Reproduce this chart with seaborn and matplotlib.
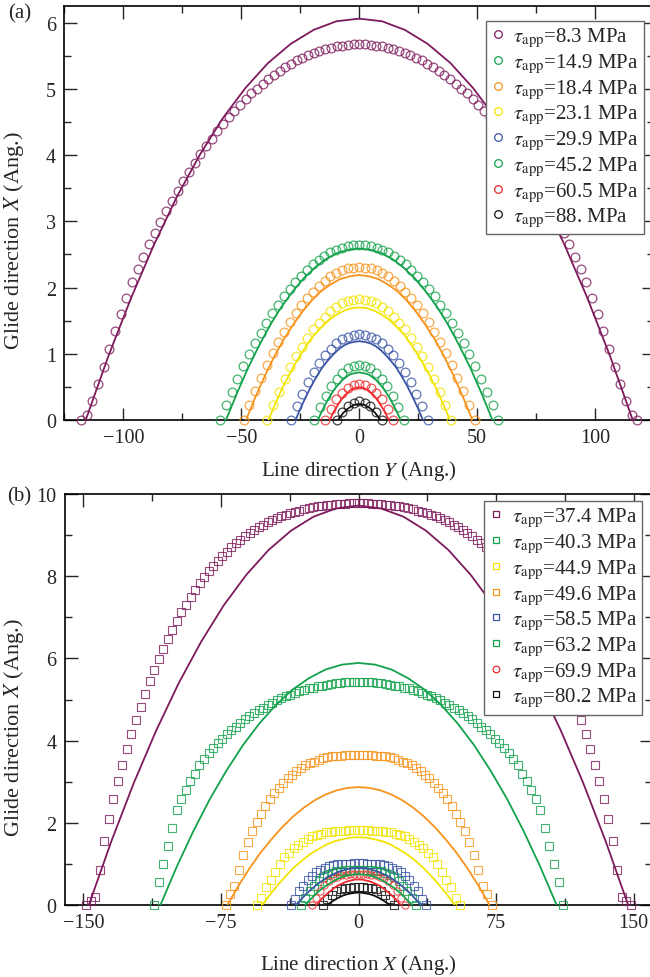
import numpy as np
import matplotlib
matplotlib.use("Agg")
import matplotlib.pyplot as plt
from matplotlib.lines import Line2D
from matplotlib.ticker import MultipleLocator
import seaborn as sns

sns.set_style("ticks")
plt.rcParams["font.family"] = ["Liberation Serif", "DejaVu Serif"]
plt.rcParams["mathtext.fontset"] = "stix"

# ---------------- panel (a) data ----------------
top_stress = ["8.3", "14.9", "18.4", "23.1", "29.9", "45.2", "60.5", "88."]
top_colors = ["#7d1a5c", "#13a24b", "#f7941d", "#f2e400", "#3a55a5", "#13a24b", "#ee2a2e", "#111111"]
top_mk_halfwidth = [118, 59, 49, 39, 29, 19, 14.5, 9.5]
top_ln_halfwidth = [116, 56.5, 48, 38.5, 27, 17.5, 12.5, 9]

top_pts_83 = [0.00, 0.07, 0.28, 0.54, 0.80, 1.07, 1.35, 1.60, 1.84, 2.08, 2.28, 2.46, 2.65, 2.82, 2.99, 3.15,
              3.31, 3.46, 3.61, 3.74, 3.88, 4.01, 4.13, 4.25, 4.36, 4.47, 4.57, 4.66, 4.76, 4.84, 4.93, 5.00,
              5.08, 5.15, 5.21, 5.27, 5.33, 5.38, 5.43, 5.47, 5.51, 5.54, 5.57, 5.60, 5.62, 5.64, 5.65, 5.66,
              5.67, 5.67, 5.67, 5.66, 5.65, 5.64, 5.62, 5.60, 5.57, 5.54, 5.51, 5.47, 5.43, 5.38, 5.33, 5.27,
              5.21, 5.15, 5.08, 5.00, 4.93, 4.84, 4.76, 4.66, 4.57, 4.47, 4.36, 4.25, 4.13, 4.01, 3.88, 3.74,
              3.61, 3.46, 3.31, 3.15, 2.99, 2.82, 2.65, 2.46, 2.28, 2.08, 1.84, 1.60, 1.35, 1.07, 0.80, 0.54,
              0.28, 0.07, 0.00]
top_pts_149 = [0.00, 0.22, 0.42, 0.62, 0.81, 0.99, 1.16, 1.32, 1.47, 1.61, 1.74, 1.87, 1.98, 2.09, 2.18, 2.27,
               2.35, 2.42, 2.48, 2.53, 2.57, 2.60, 2.62, 2.64, 2.64, 2.64, 2.62, 2.60, 2.57, 2.53, 2.48, 2.42,
               2.35, 2.27, 2.18, 2.09, 1.98, 1.87, 1.74, 1.61, 1.47, 1.32, 1.16, 0.99, 0.81, 0.62, 0.42, 0.22, 0.00]
top_pts_184 = [0.00, 0.23, 0.44, 0.64, 0.83, 1.01, 1.18, 1.33, 1.48, 1.61, 1.73, 1.84, 1.94, 2.03, 2.10, 2.17,
               2.22, 2.26, 2.29, 2.30, 2.31, 2.30, 2.29, 2.26, 2.22, 2.17, 2.10, 2.03, 1.94, 1.84, 1.73, 1.61,
               1.48, 1.33, 1.18, 1.01, 0.83, 0.64, 0.44, 0.23, 0.00]
top_pts_231 = [0.00, 0.22, 0.43, 0.62, 0.80, 0.96, 1.11, 1.24, 1.37, 1.47, 1.56, 1.64, 1.71, 1.76, 1.79, 1.81,
               1.82, 1.81, 1.79, 1.76, 1.71, 1.64, 1.56, 1.47, 1.37, 1.24, 1.11, 0.96, 0.80, 0.62, 0.43, 0.22, 0.00]
top_pts_299 = [0.00, 0.21, 0.40, 0.57, 0.72, 0.86, 0.98, 1.07, 1.16, 1.22, 1.26, 1.29, 1.30, 1.29, 1.26, 1.22,
               1.16, 1.07, 0.98, 0.86, 0.72, 0.57, 0.40, 0.21, 0.00]
top_pts_452 = [0.00, 0.19, 0.36, 0.51, 0.62, 0.71, 0.78, 0.82, 0.83, 0.82, 0.78, 0.71, 0.62, 0.51, 0.36, 0.19, 0.00]
top_pts_605 = [0.00, 0.17, 0.31, 0.41, 0.49, 0.53, 0.55, 0.53, 0.49, 0.41, 0.31, 0.17, 0.00]
top_pts_880 = [0.00, 0.12, 0.21, 0.26, 0.28, 0.26, 0.21, 0.12, 0.00]

top_fit_83 = [0.00, 0.97, 1.85, 2.65, 3.37, 4.00, 4.55, 5.01, 5.39, 5.68, 5.89, 6.02, 6.06, 6.02, 5.89, 5.68,
              5.39, 5.01, 4.55, 4.00, 3.37, 2.65, 1.85, 0.97, 0.00]
top_fit_149 = [0.00, 0.41, 0.79, 1.13, 1.44, 1.71, 1.94, 2.14, 2.30, 2.43, 2.52, 2.57, 2.59, 2.57, 2.52, 2.43,
               2.30, 2.14, 1.94, 1.71, 1.44, 1.13, 0.79, 0.41, 0.00]
top_fit_184 = [0.00, 0.35, 0.67, 0.96, 1.22, 1.44, 1.64, 1.81, 1.95, 2.05, 2.13, 2.17, 2.19, 2.17, 2.13, 2.05,
               1.95, 1.81, 1.64, 1.44, 1.22, 0.96, 0.67, 0.35, 0.00]
top_fit_231 = [0.00, 0.27, 0.52, 0.74, 0.94, 1.12, 1.28, 1.40, 1.51, 1.59, 1.65, 1.69, 1.70, 1.69, 1.65, 1.59,
               1.51, 1.40, 1.28, 1.12, 0.94, 0.74, 0.52, 0.27, 0.00]
top_fit_299 = [0.00, 0.19, 0.36, 0.52, 0.66, 0.79, 0.89, 0.98, 1.06, 1.12, 1.16, 1.18, 1.19, 1.18, 1.16, 1.12,
               1.06, 0.98, 0.89, 0.79, 0.66, 0.52, 0.36, 0.19, 0.00]
top_fit_452 = [0.00, 0.12, 0.22, 0.32, 0.40, 0.48, 0.54, 0.60, 0.64, 0.68, 0.70, 0.71, 0.72, 0.71, 0.70, 0.68,
               0.64, 0.60, 0.54, 0.48, 0.40, 0.32, 0.22, 0.12, 0.00]
top_fit_605 = [0.00, 0.08, 0.15, 0.21, 0.27, 0.32, 0.37, 0.40, 0.44, 0.46, 0.48, 0.49, 0.49, 0.49, 0.48, 0.46,
               0.44, 0.40, 0.37, 0.32, 0.27, 0.21, 0.15, 0.08, 0.00]
top_fit_880 = [0.00, 0.04, 0.07, 0.11, 0.13, 0.16, 0.18, 0.20, 0.21, 0.23, 0.23, 0.24, 0.24, 0.24, 0.23, 0.23,
               0.21, 0.20, 0.18, 0.16, 0.13, 0.11, 0.07, 0.04, 0.00]

# ---------------- panel (b) data ----------------
bot_stress = ["37.4", "40.3", "44.9", "49.6", "58.5", "63.2", "69.9", "80.2"]
bot_colors = ["#7d1a5c", "#13a24b", "#f2e400", "#f7941d", "#3a55a5", "#13a24b", "#ee2a2e", "#111111"]
bot_markers = ["s", "s", "s", "s", "s", "s", "o", "s"]
bot_mk_halfwidth = [148.5, 111.5, 55.5, 72.5, 37, 31.5, 25.5, 19.5]
bot_ln_halfwidth = [147, 108, 52.5, 71.5, 34, 29, 23, 17]

bot_pts_374 = [0.00, 0.10, 0.20, 0.85, 1.55, 2.10, 2.57, 3.01, 3.41, 3.79, 4.15, 4.50, 4.83, 5.14, 5.44, 5.72,
               5.98, 6.24, 6.48, 6.70, 6.92, 7.12, 7.31, 7.50, 7.67, 7.83, 7.98, 8.12, 8.25, 8.38, 8.49, 8.60,
               8.71, 8.80, 8.89, 8.98, 9.05, 9.13, 9.19, 9.25, 9.31, 9.36, 9.41, 9.46, 9.50, 9.54, 9.57, 9.60,
               9.63, 9.66, 9.68, 9.70, 9.72, 9.73, 9.74, 9.76, 9.76, 9.77, 9.78, 9.78,
               9.78,
               9.78, 9.78, 9.77, 9.76, 9.76, 9.74, 9.73, 9.72, 9.70, 9.68, 9.66, 9.63, 9.60, 9.57, 9.54, 9.50,
               9.46, 9.41, 9.36, 9.31, 9.25, 9.19, 9.13, 9.05, 8.98, 8.89, 8.80, 8.71, 8.60, 8.49, 8.38, 8.25,
               8.12, 7.98, 7.83, 7.67, 7.50, 7.31, 7.12, 6.92, 6.70, 6.48, 6.24, 5.98, 5.72, 5.44, 5.14, 4.83,
               4.50, 4.15, 3.79, 3.41, 3.01, 2.57, 2.10, 1.55, 0.85, 0.20, 0.10, 0.00]
bot_pts_403 = [0.00, 0.56, 0.99, 1.43, 1.87, 2.30, 2.58, 2.81, 3.02, 3.20, 3.40, 3.56, 3.69, 3.82, 3.94, 4.05,
               4.15, 4.25, 4.34, 4.43, 4.52, 4.59, 4.67, 4.74, 4.80, 4.86, 4.92, 4.98, 5.03, 5.08, 5.12, 5.16,
               5.20, 5.23, 5.27, 5.29, 5.32, 5.34, 5.36, 5.38, 5.40, 5.41, 5.42, 5.43, 5.43,
               5.43,
               5.43, 5.43, 5.42, 5.41, 5.40, 5.38, 5.36, 5.34, 5.32, 5.29, 5.27, 5.23, 5.20, 5.16, 5.12, 5.08,
               5.03, 4.98, 4.92, 4.86, 4.80, 4.74, 4.67, 4.59, 4.52, 4.43, 4.34, 4.25, 4.15, 4.05, 3.94, 3.82,
               3.69, 3.56, 3.40, 3.20, 3.02, 2.81, 2.58, 2.30, 1.87, 1.43, 0.99, 0.56, 0.00]
bot_pts_449 = [0.00, 0.16, 0.43, 0.62, 0.81, 1.00, 1.16, 1.27, 1.38, 1.47, 1.54, 1.61, 1.68, 1.71, 1.74, 1.77,
               1.78, 1.79, 1.80, 1.81, 1.82, 1.82, 1.82, 1.82, 1.82, 1.81, 1.80, 1.79, 1.78, 1.77, 1.74, 1.71,
               1.68, 1.61, 1.54, 1.47, 1.38, 1.27, 1.16, 1.00, 0.81, 0.62, 0.43, 0.16, 0.00]
bot_pts_496 = [0.00, 0.26, 0.47, 0.86, 1.22, 1.54, 1.79, 2.03, 2.22, 2.42, 2.59, 2.72, 2.85, 2.98, 3.08, 3.16,
               3.25, 3.34, 3.41, 3.45, 3.49, 3.53, 3.57, 3.60, 3.62, 3.63, 3.63, 3.64, 3.64, 3.65,
               3.65,
               3.65, 3.64, 3.64, 3.63, 3.63, 3.62, 3.60, 3.57, 3.53, 3.49, 3.45, 3.41, 3.34, 3.25, 3.16, 3.08,
               2.98, 2.85, 2.72, 2.59, 2.42, 2.22, 2.03, 1.79, 1.54, 1.22, 0.86, 0.47, 0.26, 0.00]
bot_pts_585 = [0.00, 0.14, 0.33, 0.47, 0.60, 0.70, 0.80, 0.86, 0.90, 0.94, 0.97, 0.99, 1.00, 1.01, 1.01, 1.02,
               1.02, 1.02, 1.01, 1.01, 1.00, 0.99, 0.97, 0.94, 0.90, 0.86, 0.80, 0.70, 0.60, 0.47, 0.33, 0.14, 0.00]
bot_pts_632 = [0.00, 0.17, 0.33, 0.46, 0.58, 0.69, 0.74, 0.78, 0.82, 0.83, 0.85, 0.85, 0.86, 0.86, 0.86, 0.85,
               0.85, 0.83, 0.82, 0.78, 0.74, 0.69, 0.58, 0.46, 0.33, 0.17, 0.00]
bot_pts_699 = [0.00, 0.17, 0.34, 0.49, 0.59, 0.65, 0.69, 0.73, 0.74, 0.75, 0.76, 0.76, 0.76, 0.75, 0.74, 0.73,
               0.69, 0.65, 0.59, 0.49, 0.34, 0.17, 0.00]
bot_pts_802 = [0.00, 0.14, 0.25, 0.34, 0.38, 0.41, 0.42, 0.43, 0.43, 0.43, 0.42, 0.41, 0.38, 0.34, 0.25, 0.14, 0.00]

bot_fit_374 = [0.00, 1.55, 2.97, 4.25, 5.40, 6.41, 7.29, 8.03, 8.64, 9.11, 9.45, 9.65, 9.72, 9.65, 9.45, 9.11,
               8.64, 8.03, 7.29, 6.41, 5.40, 4.25, 2.97, 1.55, 0.00]
bot_fit_403 = [0.00, 0.94, 1.80, 2.58, 3.27, 3.89, 4.42, 4.87, 5.24, 5.52, 5.73, 5.85, 5.89, 5.85, 5.73, 5.52,
               5.24, 4.87, 4.42, 3.89, 3.27, 2.58, 1.80, 0.94, 0.00]
bot_fit_449 = [0.00, 0.26, 0.50, 0.72, 0.92, 1.09, 1.24, 1.36, 1.47, 1.55, 1.60, 1.64, 1.65, 1.64, 1.60, 1.55,
               1.47, 1.36, 1.24, 1.09, 0.92, 0.72, 0.50, 0.26, 0.00]
bot_fit_496 = [0.00, 0.46, 0.88, 1.26, 1.59, 1.89, 2.15, 2.37, 2.55, 2.69, 2.79, 2.85, 2.87, 2.85, 2.79, 2.69,
               2.55, 2.37, 2.15, 1.89, 1.59, 1.26, 0.88, 0.46, 0.00]
bot_fit_585 = [0.00, 0.14, 0.28, 0.39, 0.50, 0.59, 0.68, 0.74, 0.80, 0.84, 0.88, 0.89, 0.90, 0.89, 0.88, 0.84,
               0.80, 0.74, 0.68, 0.59, 0.50, 0.39, 0.28, 0.14, 0.00]
bot_fit_632 = [0.00, 0.12, 0.23, 0.33, 0.42, 0.49, 0.56, 0.62, 0.67, 0.70, 0.73, 0.74, 0.75, 0.74, 0.73, 0.70,
               0.67, 0.62, 0.56, 0.49, 0.42, 0.33, 0.23, 0.12, 0.00]
bot_fit_699 = [0.00, 0.10, 0.19, 0.27, 0.34, 0.41, 0.47, 0.51, 0.55, 0.58, 0.60, 0.62, 0.62, 0.62, 0.60, 0.58,
               0.55, 0.51, 0.47, 0.41, 0.34, 0.27, 0.19, 0.10, 0.00]
bot_fit_802 = [0.00, 0.05, 0.09, 0.13, 0.17, 0.20, 0.23, 0.25, 0.27, 0.28, 0.29, 0.30, 0.30, 0.30, 0.29, 0.28,
               0.27, 0.25, 0.23, 0.20, 0.17, 0.13, 0.09, 0.05, 0.00]

top_pts = [top_pts_83, top_pts_149, top_pts_184, top_pts_231, top_pts_299, top_pts_452, top_pts_605, top_pts_880]
top_fit = [top_fit_83, top_fit_149, top_fit_184, top_fit_231, top_fit_299, top_fit_452, top_fit_605, top_fit_880]
bot_pts = [bot_pts_374, bot_pts_403, bot_pts_449, bot_pts_496, bot_pts_585, bot_pts_632, bot_pts_699, bot_pts_802]
bot_fit = [bot_fit_374, bot_fit_403, bot_fit_449, bot_fit_496, bot_fit_585, bot_fit_632, bot_fit_699, bot_fit_802]

TICK_FS = 14.5
LABEL_FS = 15
YLABEL_FS = 16
LEG_FS = 15

fig = plt.figure(figsize=(6.5, 9.78), dpi=100)
ax_a = fig.add_axes([0.0992, 0.5695, 0.9069, 0.4233])
ax_b = fig.add_axes([0.1000, 0.0736, 0.9031, 0.4202])


def draw(ax, pts, fits, mk_hw, ln_hw, colors, markers, ms, mew):
    for vals, fv, mh, lh, c, m in zip(pts, fits, mk_hw, ln_hw, colors, markers):
        xs = np.linspace(-mh, mh, len(vals))
        sns.lineplot(x=xs, y=np.array(vals), ax=ax, estimator=None, sort=False,
                     linestyle="none", marker=m, markersize=ms, markerfacecolor="none",
                     markeredgecolor=c, markeredgewidth=mew, color=c, alpha=0.8,
                     clip_on=False, zorder=3)
        xl = np.linspace(-lh, lh, len(fv))
        sns.lineplot(x=xl, y=np.array(fv), ax=ax, estimator=None, sort=False,
                     color=c, linewidth=1.3, zorder=4)


draw(ax_a, top_pts, top_fit, top_mk_halfwidth, top_ln_halfwidth, top_colors,
     ["o"] * 8, 6.3, 0.9)
draw(ax_b, bot_pts, bot_fit, bot_mk_halfwidth, bot_ln_halfwidth, bot_colors,
     bot_markers, 5.2, 0.8)

ax_a.set_xlim(-125, 125)
ax_a.set_ylim(0, 6.25)
ax_a.xaxis.set_major_locator(MultipleLocator(50))
ax_a.xaxis.set_minor_locator(MultipleLocator(25))
ax_a.yaxis.set_major_locator(MultipleLocator(1))
ax_a.yaxis.set_minor_locator(MultipleLocator(0.5))

ax_b.set_xlim(-160, 160)
ax_b.set_ylim(0, 10)
ax_b.xaxis.set_major_locator(MultipleLocator(75))
ax_b.xaxis.set_minor_locator(MultipleLocator(37.5))
ax_b.yaxis.set_major_locator(MultipleLocator(2))
ax_b.yaxis.set_minor_locator(MultipleLocator(1))

for ax in (ax_a, ax_b):
    ax.tick_params(which="both", direction="in", top=True, right=True, width=1.0,
                   labelsize=TICK_FS, pad=6)
    ax.tick_params(which="major", length=9)
    ax.tick_params(which="minor", length=5)
    for sp in ax.spines.values():
        sp.set_linewidth(1.2)
        sp.set_color("black")
    ax.set_ylabel("Glide direction $X$ (Ang.)", fontsize=YLABEL_FS)
    ax.yaxis.set_label_coords(-0.066, 0.435)

ax_a.set_xlabel("Line direction $Y$ (Ang.)", fontsize=LABEL_FS, labelpad=8)
ax_b.set_xlabel("Line direction $X$ (Ang.)", fontsize=LABEL_FS, labelpad=14)


def legend(ax, labels, colors, markers, ms, anchor):
    handles = [Line2D([], [], linestyle="none", marker=m, markersize=ms, markerfacecolor="none",
                      markeredgecolor=c, markeredgewidth=0.9) for c, m in zip(colors, markers)]
    texts = [r"$\tau_{\rm app}$=" + s + " MPa" for s in labels]
    leg = ax.legend(handles, texts, loc="upper right", bbox_to_anchor=anchor, borderaxespad=0,
                    fontsize=LEG_FS, handlelength=0.6, handletextpad=0.45, labelspacing=0.12,
                    borderpad=0.25, fancybox=False, framealpha=1, edgecolor="#666666")
    leg.get_frame().set_linewidth(1.0)
    leg.set_zorder(10)


legend(ax_a, top_stress, top_colors, ["o"] * 8, 5.5, (0.983, 0.964))
legend(ax_b, bot_stress, bot_colors, bot_markers, 4.8, (0.983, 0.983))

fig.text(8 / 650, 1 - 14 / 978, "(a)", fontsize=15, va="center", ha="left")
fig.text(7 / 650, 1 - 497 / 978, "(b)", fontsize=15, va="center", ha="left")

fig.savefig("out.png", dpi=100)
